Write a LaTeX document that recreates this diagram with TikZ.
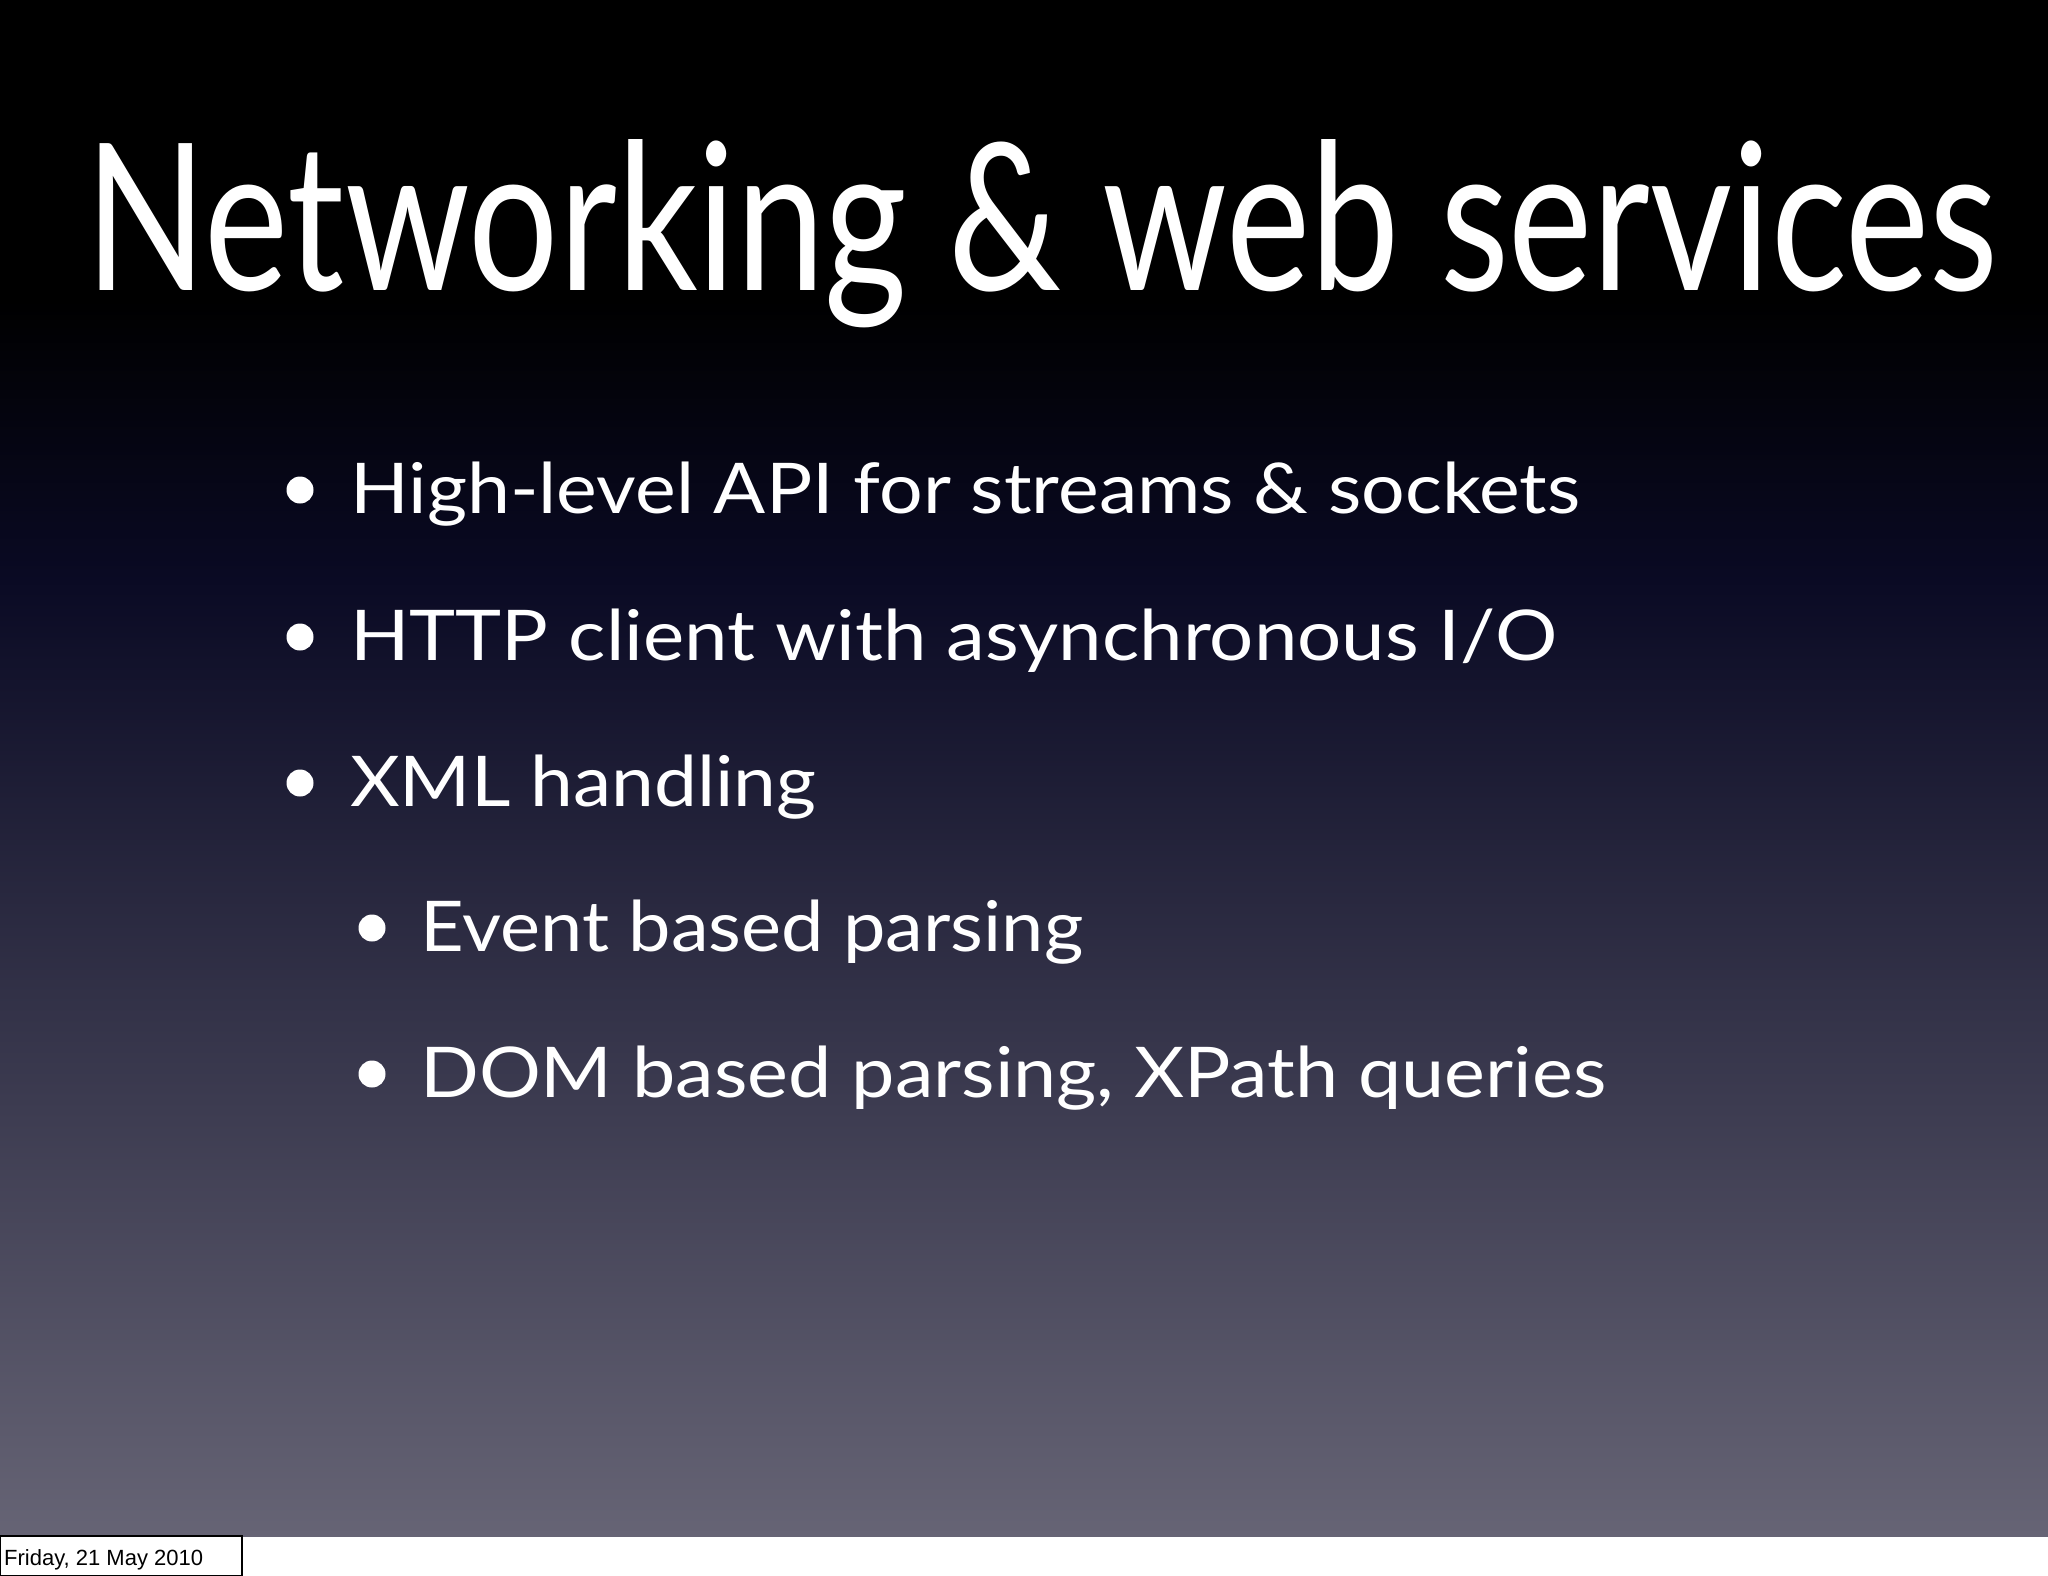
\documentclass[tikz,border=0pt]{standalone}
\usepackage{fontspec}
\setmainfont{Lato}
\newfontfamily\footfont{Liberation Sans}
\definecolor{bgtop}{HTML}{000000}
\definecolor{bgmid}{HTML}{0A0A24}
\definecolor{bgbot}{HTML}{666475}
\newcommand{\fitw}[2]{\resizebox{#1pt}{\height}{#2}}
\begin{document}
\begin{tikzpicture}[x=1pt,y=-1pt,
  title/.style={anchor=base west,inner sep=0pt,text=white,font=\fontsize{205}{220}\selectfont},
  item/.style={anchor=base west,inner sep=0pt,text=white,font=\fontsize{70}{80}\selectfont},
  dot/.style={circle,fill=white,inner sep=0pt,minimum size=27pt}]
\useasboundingbox (0,0) rectangle (2048,1576);
\fill[white] (0,0) rectangle (2048,1576);
\fill[bgtop] (0,0) rectangle (2048,300);
\shade[top color=bgtop,bottom color=bgmid] (0,300) rectangle (2048,580);
\shade[top color=bgmid,bottom color=bgbot] (0,579) rectangle (2048,1536);
\node[title] (t) at (85,290) {\fitw{1913}{Networking \& web services}};
\node[item] (i1) at (350,513) {\fitw{1230}{High-level API for streams \& sockets}};
\node[item] (i2) at (350,660) {\fitw{1207}{HTTP client with asynchronous I/O}};
\node[item] (i3) at (350,806) {\fitw{466}{XML handling}};
\node[item] (i4) at (420,951) {\fitw{663}{Event based parsing}};
\node[item] (i5) at (420,1097) {\fitw{1186}{DOM based parsing, XPath queries}};
\node[dot] (d1) at (300,490) {};
\node[dot] (d2) at (300,637) {};
\node[dot] (d3) at (300,783) {};
\node[dot] (d4) at (372,928) {};
\node[dot] (d5) at (372,1074) {};
\draw[black,line width=1.5pt] (0,1536) rectangle (242,1576);
\node[anchor=base west,inner sep=0pt,font=\footfont\fontsize{22}{24}\selectfont] (f) at (4,1565) {Friday, 21 May 2010};
\end{tikzpicture}
\end{document}
